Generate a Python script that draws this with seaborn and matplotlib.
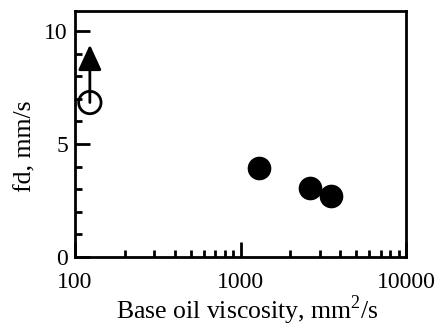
import pandas as pd
import matplotlib
matplotlib.use("Agg")
import matplotlib.pyplot as plt
import seaborn as sns
from matplotlib.ticker import MultipleLocator, LogLocator

# data
visc_filled = [1290, 2640, 3500]
fd_filled = [3.96, 3.07, 2.71]
visc_open = [123]
fd_open = [6.84]
arrow_tip = 9.4

sns.set_theme(style="ticks")
plt.rcParams["font.family"] = ["Liberation Serif", "DejaVu Serif"]
plt.rcParams["mathtext.fontset"] = "custom"
plt.rcParams["mathtext.rm"] = "Liberation Serif"

fig = plt.figure(figsize=(4.41, 3.29), dpi=100)
ax = fig.add_axes([0.17, 0.219, 0.751, 0.748])

filled = pd.DataFrame({"visc": visc_filled, "fd": fd_filled})
opened = pd.DataFrame({"visc": visc_open, "fd": fd_open})

# arrow from the open circle (lower bound)
ax.annotate("", xy=(visc_open[0], arrow_tip), xytext=(visc_open[0], fd_open[0]),
            arrowprops=dict(arrowstyle="-|>,head_length=1.3,head_width=0.6",
                            color="black", lw=2, shrinkA=0, shrinkB=0))

sns.scatterplot(data=filled, x="visc", y="fd", ax=ax, s=290, color="black",
                edgecolor="black", linewidth=0, zorder=3)
sns.scatterplot(data=opened, x="visc", y="fd", ax=ax, s=260, facecolor="none",
                edgecolor="black", linewidth=2, zorder=3)

ax.set_xscale("log")
ax.set_xlim(100, 10000)
ax.set_ylim(0, 10.9)
ax.set_xticks([100, 1000, 10000])
ax.set_xticklabels(["100", "1000", "10000"])
ax.xaxis.set_minor_locator(LogLocator(base=10, subs=range(2, 10)))
ax.set_yticks([0, 5, 10])
ax.yaxis.set_minor_locator(MultipleLocator(1))

for s in ax.spines.values():
    s.set_linewidth(2)
    s.set_color("black")
ax.tick_params(which="major", direction="in", length=11, width=2, labelsize=17,
               colors="black")
ax.tick_params(which="minor", direction="in", length=5, width=2, colors="black")
ax.tick_params(axis="x", which="major", pad=11)
ax.tick_params(axis="y", which="major", pad=5)

ax.set_xlabel("Base oil viscosity, mm$^2$/s", fontsize=18.5, color="black",
              labelpad=0)
ax.set_ylabel("fd, mm/s", fontsize=18.5, color="black", labelpad=6)
ax.xaxis.label.set_x(0.52)
ax.yaxis.label.set_y(0.45)

fig.savefig("out.png", dpi=100)
